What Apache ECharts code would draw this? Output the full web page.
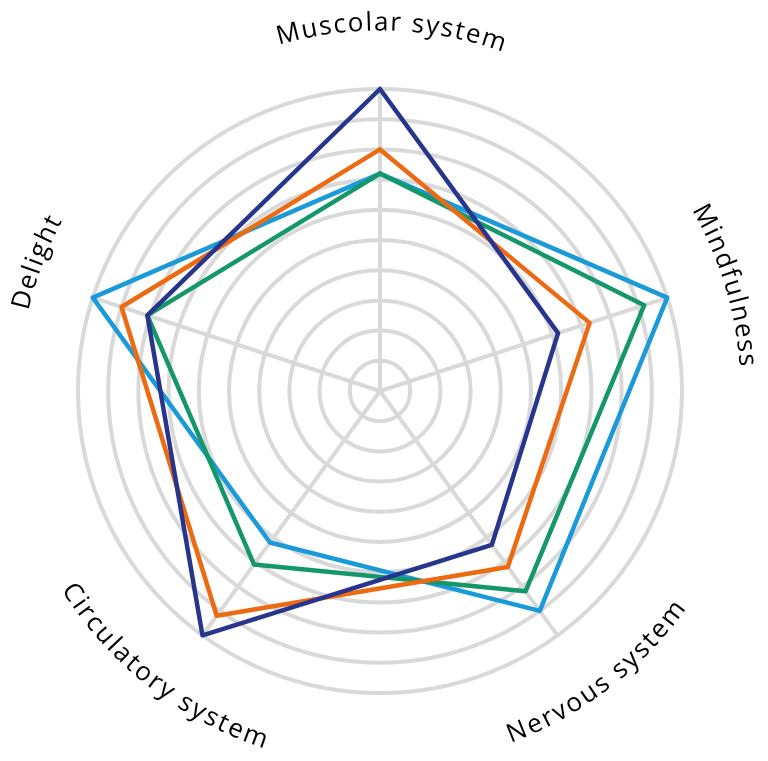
<!DOCTYPE html>
<html>
<head>
<meta charset="utf-8">
<script src="https://cdn.jsdelivr.net/npm/echarts@6/dist/echarts.min.js"></script>
<style>
html,body{margin:0;padding:0;background:#fff;}
#chart{width:768px;height:761px;}
</style>
</head>
<body>
<div id="chart"></div>
<script>
// Axes in counter-clockwise order starting at the top
const indicators = ['Muscolar system', 'Delight', 'Circulatory system', 'Nervous system', 'Mindfulness'];
const maxValue = 10;
const seriesNavy   = [10, 8.1, 10, 6.3, 6.2];
const seriesOrange = [8, 9, 9.2, 7.2, 7.3];
const seriesGreen  = [7.2, 8.1, 7.1, 8.2, 9.2];
const seriesBlue   = [7.2, 10, 6.2, 9, 10];

const colors = {navy: '#27358c', orange: '#ec6a12', green: '#14976b', blue: '#1a9ad8'};
const CX = 380, CY = 391, R = 302;
const FONT_SIZE = 26, FONT_FAMILY = 'Open Sans', LETTER_SP = 2, LABEL_R = 368;
// small angular nudges (degrees) for the curved labels
const labelNudge = [-1.8, -2.5, -2, 1.5, -1];

const chart = echarts.init(document.getElementById('chart'));

const measureCtx = document.createElement('canvas').getContext('2d');
measureCtx.font = '500 ' + FONT_SIZE + 'px "' + FONT_FAMILY + '"';
function curvedLabel(text, angleDeg) {
  const theta = angleDeg * Math.PI / 180;
  const bottom = Math.sin(theta) < -0.3; // lower labels read counter-clockwise
  const chars = [...text];
  const widths = chars.map(c => measureCtx.measureText(c).width);
  const total = widths.reduce((a, b) => a + b, 0) + LETTER_SP * (chars.length - 1);
  const els = [];
  let s = -total / 2;
  chars.forEach((ch, i) => {
    const mid = s + widths[i] / 2;
    const phi = bottom ? theta + mid / LABEL_R : theta - mid / LABEL_R;
    const rot = bottom ? phi + Math.PI / 2 : phi - Math.PI / 2;
    els.push({
      type: 'text',
      x: CX + LABEL_R * Math.cos(phi),
      y: CY - LABEL_R * Math.sin(phi),
      rotation: rot,
      style: {
        text: ch,
        fill: '#000',
        font: '500 ' + FONT_SIZE + 'px "' + FONT_FAMILY + '"',
        textAlign: 'center',
        textVerticalAlign: 'middle'
      },
      silent: true
    });
    s += widths[i] + LETTER_SP;
  });
  return els;
}
let graphics = [];
indicators.forEach((name, i) => {
  graphics = graphics.concat(curvedLabel(name, 90 + i * 360 / indicators.length + labelNudge[i]));
});

const mk = (name, data, color) => ({
  name: name,
  value: data,
  symbol: 'none',
  lineStyle: {color: color, width: 4.5, join: 'round', cap: 'round'},
  itemStyle: {color: color}
});

chart.setOption({
  animation: false,
  radar: {
    center: [CX, CY],
    radius: R,
    startAngle: 90,
    shape: 'circle',
    splitNumber: 10,
    indicator: indicators.map(n => ({name: n, max: maxValue, min: 0})),
    axisName: {show: false},
    splitArea: {show: false},
    splitLine: {lineStyle: {color: '#d9d9d9', width: 4}},
    axisLine: {lineStyle: {color: '#d9d9d9', width: 4}},
    axisTick: {show: false},
    axisLabel: {show: false}
  },
  series: [{
    type: 'radar',
    data: [
      mk('Blue', seriesBlue, colors.blue),
      mk('Green', seriesGreen, colors.green),
      mk('Orange', seriesOrange, colors.orange),
      mk('Navy', seriesNavy, colors.navy)
    ]
  }],
  graphic: graphics
});
</script>
</body>
</html>
